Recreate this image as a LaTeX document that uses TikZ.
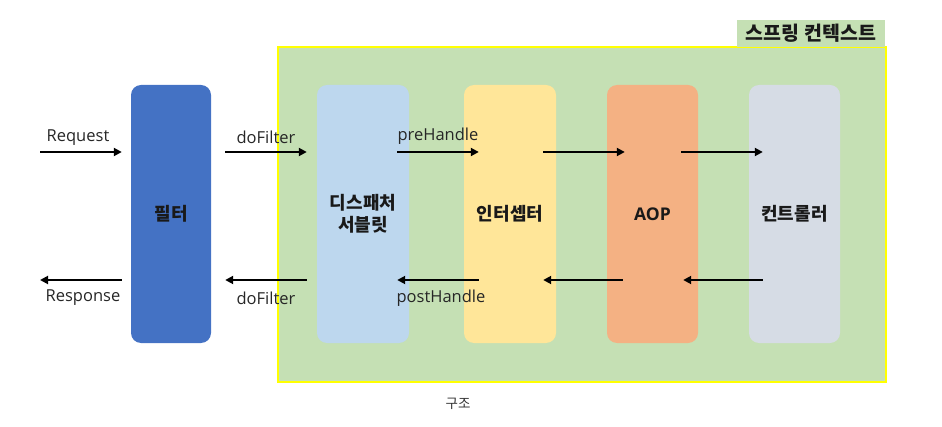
\documentclass[tikz,border=0pt]{standalone}
\usepackage{fontspec}
\setmainfont{Open Sans}
\newfontfamily\kr{Noto Sans CJK KR}
\usetikzlibrary{arrows.meta}
\definecolor{ctxgreen}{HTML}{C5E0B4}
\definecolor{ctxyellow}{HTML}{FFFF00}
\definecolor{filtblue}{HTML}{4472C4}
\definecolor{dispblue}{HTML}{BDD7EE}
\definecolor{intyellow}{HTML}{FFE699}
\definecolor{aoporange}{HTML}{F4B183}
\definecolor{ctrlgray}{HTML}{D6DCE5}
\begin{document}
\begin{tikzpicture}[x=1pt,y=1pt,
  stage/.style={rounded corners=10pt, minimum height=258pt, inner sep=0pt, align=center,
    font=\fontsize{17.5}{21}\selectfont\bfseries, text=black!90},
  krtxt/.style={font=\kr\fontsize{18}{22}\selectfont\bfseries},
  arr/.style={line width=1.9pt, -{Triangle[length=8pt,width=8pt]}},
  lbl/.style={font=\fontsize{16.5}{19}\selectfont, text=black!85, inner sep=1pt}]
\useasboundingbox (0,0) rectangle (942,426);
% spring context
\node[fill=ctxgreen, draw=ctxyellow, line width=1.6pt, minimum width=608pt, minimum height=335pt, inner sep=0pt] (ctx) at (582,211.5) {};
\node[fill=ctxgreen, minimum width=148pt, minimum height=27pt, inner sep=0pt,
  font=\kr\fontsize{19.5}{22}\selectfont\bfseries, text=black!90] (ctxlbl) at (811,392.5) {스프링 컨텍스트};
% stages
\node[stage, krtxt, fill=filtblue, minimum width=80pt] (filt) at (171,212) {필터};
\node[stage, krtxt, fill=dispblue, minimum width=92pt] (disp) at (363,212) {디스패처\\서블릿};
\node[stage, krtxt, fill=intyellow, minimum width=92pt] (inter) at (510,212) {인터셉터};
\node[stage, fill=aoporange, minimum width=91pt] (aop) at (652.5,212) {AOP};
\node[stage, krtxt, fill=ctrlgray, minimum width=91pt] (ctrl) at (794.5,212) {컨트롤러};
% free ends
\coordinate (inT) at (40,274);
\coordinate (outB) at (40,146);
% top arrows
\draw[arr, shorten >=9pt] (inT) -- (filt.west |- inT);
\draw[arr, shorten <=14pt, shorten >=10pt] (filt.east |- inT) -- (disp.west |- inT);
\draw[arr, shorten <=-12pt, shorten >=-15pt] (disp.east |- inT) -- (inter.west |- inT);
\draw[arr, shorten <=-13pt, shorten >=-18pt] (inter.east |- inT) -- (aop.west |- inT);
\draw[arr, shorten <=-17pt, shorten >=-14pt] (aop.east |- inT) -- (ctrl.west |- inT);
% bottom arrows
\draw[arr, shorten <=-14pt, shorten >=-15pt] (ctrl.west |- outB) -- (aop.east |- outB);
\draw[arr, shorten <=-16pt, shorten >=-13pt] (aop.west |- outB) -- (inter.east |- outB);
\draw[arr, shorten <=-15pt, shorten >=-12pt] (inter.west |- outB) -- (disp.east |- outB);
\draw[arr, shorten <=10pt, shorten >=14pt] (disp.west |- outB) -- (filt.east |- outB);
\draw[arr, shorten <=9pt] (filt.west |- outB) -- (outB);
% labels
\node[lbl] (lreq) at (78,288) {Request};
\node[lbl] (ldf1) at (266,289) {doFilter};
\node[lbl] (lpre) at (438,290) {preHandle};
\node[lbl] (lres) at (83,128) {Response};
\node[lbl] (ldf2) at (266,128) {doFilter};
\node[lbl] (lpost) at (441,128) {postHandle};
\node[font=\kr\fontsize{13.5}{15}\selectfont, text=black!80] (cap) at (458,22) {구조};
\end{tikzpicture}
\end{document}
